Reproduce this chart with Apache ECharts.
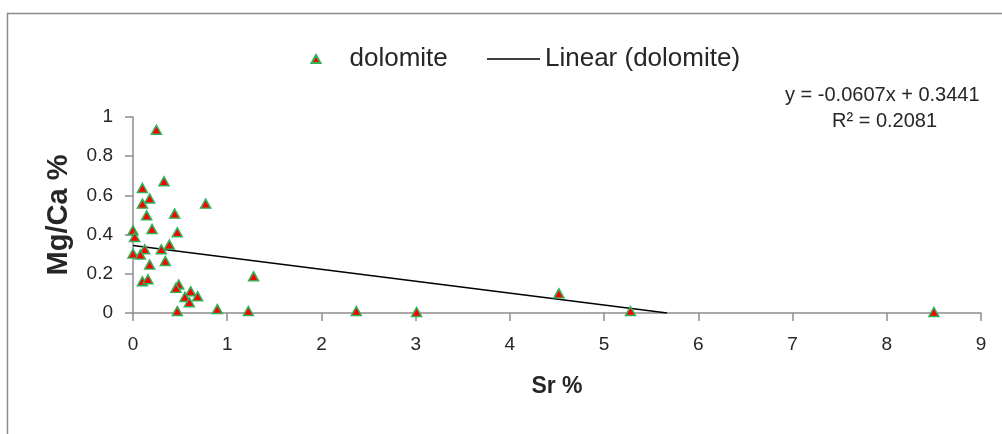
<!DOCTYPE html>
<html>
<head>
<meta charset="utf-8">
<script src="https://cdn.jsdelivr.net/npm/echarts@6/dist/echarts.min.js"></script>
<style>
  html, body { margin: 0; padding: 0; background: #fff; }
  #chart { width: 1002px; height: 434px; }
</style>
</head>
<body>
<div id="chart"></div>
<script>
// Sr % versus Mg/Ca % for dolomite samples
const srPct = [
  0.248, 0.329, 0.100, 0.177, 0.100, 0.771, 0.145, 0.442, 0.202, 0.470,
  0.000, 0.018, 0.386, 0.124, 0.300, 0.000, 0.078, 0.343, 0.177, 0.100,
  0.159, 1.280, 0.485, 0.456, 0.612, 0.551, 0.686, 0.598, 0.470, 0.895,
  1.224, 2.370, 3.010, 4.520, 5.280, 8.500
];
const mgCaPct = [
  0.935, 0.672, 0.638, 0.584, 0.558, 0.558, 0.498, 0.507, 0.429, 0.412,
  0.422, 0.388, 0.349, 0.325, 0.325, 0.303, 0.298, 0.265, 0.247, 0.162,
  0.172, 0.187, 0.145, 0.128, 0.111, 0.082, 0.085, 0.055, 0.010, 0.020,
  0.010, 0.010, 0.005, 0.100, 0.010, 0.005
];

// Least-squares fit reported for the series
const SLOPE = -0.0607;
const INTERCEPT = 0.3441;
const R_SQUARED = 0.2081;

const xTicks = { min: 0, max: 9, step: 1 };
const yTicks = { min: 0, max: 1, step: 0.2 };

const FONT = '"Liberation Sans", Arial, sans-serif';
const AXIS_GREY = '#8c8c8c';
const TEXT = '#262626';

const points = srPct.map((x, i) => [x, mgCaPct[i]]);
// trend line runs from x = 0 until it meets the y = 0 axis
const xRoot = -INTERCEPT / SLOPE;
const trend = [[0, INTERCEPT], [xRoot, SLOPE * xRoot + INTERCEPT]];

const fmt = v => (v < 0 ? '-' : '') + Math.abs(v).toFixed(4);
const eqLine = 'y = ' + fmt(SLOPE) + 'x + ' + fmt(INTERCEPT);
const r2Line = 'R\u00B2 = ' + R_SQUARED.toFixed(4);

const legendText = { fontFamily: FONT, fontSize: 26, color: TEXT };

const chart = echarts.init(document.getElementById('chart'), null, { renderer: 'canvas' });

chart.setOption({
  animation: false,
  backgroundColor: '#ffffff',
  textStyle: { fontFamily: FONT },
  grid: { left: 133, right: 21, top: 117, bottom: 121, containLabel: false },
  legend: [
    {
      left: 305.5,
      top: 41,
      itemWidth: 9,
      itemHeight: 8,
      textStyle: Object.assign({ padding: [0, 0, 0, 24] }, legendText),
      data: [{ name: 'dolomite', icon: 'triangle' }]
    },
    {
      left: 482,
      top: 41,
      itemWidth: 53,
      itemHeight: 1.5,
      textStyle: legendText,
      data: [{ name: 'Linear (dolomite)', icon: 'rect', itemStyle: { color: '#000000' } }]
    }
  ],
  xAxis: {
    type: 'value',
    min: xTicks.min,
    max: xTicks.max,
    interval: xTicks.step,
    name: 'Sr %',
    nameLocation: 'middle',
    nameGap: 62,
    nameTextStyle: { fontFamily: FONT, fontSize: 23, fontWeight: 'bold', color: TEXT },
    axisLine: { show: true, lineStyle: { color: AXIS_GREY, width: 1.5 } },
    axisTick: { show: true, inside: false, length: 8, lineStyle: { color: AXIS_GREY, width: 1.5 } },
    axisLabel: { margin: 22, fontSize: 19, color: TEXT, fontFamily: FONT },
    splitLine: { show: false }
  },
  yAxis: {
    type: 'value',
    min: yTicks.min,
    max: yTicks.max,
    interval: yTicks.step,
    name: 'Mg/Ca %',
    nameLocation: 'middle',
    nameGap: 60,
    nameRotate: 90,
    nameTextStyle: { fontFamily: FONT, fontSize: 29, fontWeight: 'bold', color: TEXT },
    axisLine: { show: true, lineStyle: { color: AXIS_GREY, width: 1.5 } },
    axisTick: { show: true, inside: false, length: 8, lineStyle: { color: AXIS_GREY, width: 1.5 } },
    axisLabel: { margin: 20, fontSize: 19, color: TEXT, fontFamily: FONT },
    splitLine: { show: false }
  },
  series: [
    {
      name: 'Linear (dolomite)',
      type: 'line',
      data: trend,
      symbol: 'none',
      z: 2,
      lineStyle: { color: '#000000', width: 1.5 },
      itemStyle: { color: '#000000' }
    },
    {
      name: 'dolomite',
      type: 'scatter',
      data: points,
      symbol: 'triangle',
      symbolSize: [10, 9],
      z: 3,
      itemStyle: { color: '#ff0000', borderColor: '#2fb35a', borderWidth: 1.5, opacity: 1 }
    }
  ],
  graphic: [
    {
      type: 'rect',
      silent: true,
      shape: { x: 7.5, y: 13.5, width: 1100, height: 600 },
      style: { fill: 'none', stroke: AXIS_GREY, lineWidth: 1.5 }
    },
    {
      type: 'text',
      left: 785,
      top: 85,
      style: { text: eqLine, font: '20px ' + FONT, fill: TEXT, textAlign: 'left' }
    },
    {
      type: 'text',
      left: 832,
      top: 111,
      style: { text: r2Line, font: '20px ' + FONT, fill: TEXT, textAlign: 'left' }
    }
  ]
});
</script>
</body>
</html>
